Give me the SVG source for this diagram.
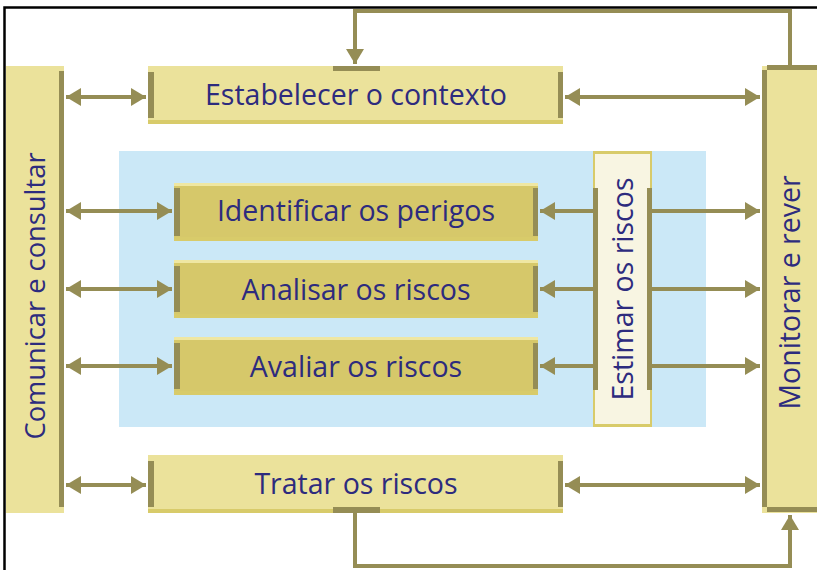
<svg xmlns="http://www.w3.org/2000/svg" width="817" height="570" viewBox="0 0 817 570">
<defs>
<style>
.lt{fill:#ebe29b}
.md{fill:#d6c86a}
.edge{fill:#d8cb6a}
.dk{fill:#958d55}
.ln{stroke:#958d55;stroke-width:4;fill:none}
.tx{font-family:"Open Sans","Noto Sans",sans-serif;font-size:28.5px;fill:#2d2b7e;text-anchor:middle}
</style>
<marker id="ah" viewBox="0 0 10 12" refX="10" refY="6" markerWidth="3.75" markerHeight="4.5" orient="auto-start-reverse" markerUnits="strokeWidth">
<path d="M0,0 L10,6 L0,12 Z" fill="#958d55"/>
</marker>
</defs>
<rect width="817" height="570" fill="#fff"/>
<path d="M4.5,572 V7.5 H820" fill="none" stroke="#000" stroke-width="2.5"/>
<rect x="119" y="151" width="587" height="276" fill="#cbe8f7"/>

<g id="comunicar">
<rect class="lt" x="6" y="66" width="58" height="447"/>
<rect class="dk" x="59" y="71" width="5" height="436"/>
<text class="tx" style="font-size:27.3px" transform="translate(45,296) rotate(-90)">Comunicar e consultar</text>
</g>

<g id="monitorar">
<rect class="lt" x="762" y="66" width="60" height="447"/>
<rect class="dk" x="767" y="65" width="55" height="5"/>
<rect class="dk" x="762" y="70" width="5" height="437"/>
<rect class="dk" x="767" y="507" width="55" height="5"/>
<text class="tx" transform="translate(800,292.5) rotate(-90)">Monitorar e rever</text>
</g>

<g id="estabelecer">
<rect class="lt" x="148" y="66" width="415" height="58"/>
<rect class="edge" x="148" y="120" width="415" height="4"/>
<rect class="dk" x="148" y="72" width="6" height="46"/>
<rect class="dk" x="558" y="72" width="5" height="46"/>
<rect class="dk" x="333" y="66" width="47" height="5"/>
<text class="tx" x="356" y="105">Estabelecer o contexto</text>
</g>

<g id="identificar">
<rect class="md" x="174" y="183" width="364" height="58"/>
<rect fill="#efe7a3" x="174" y="183" width="364" height="3"/>
<rect class="edge" x="174" y="237" width="364" height="4"/>
<rect class="dk" x="174" y="188" width="6" height="48"/>
<rect class="dk" x="533" y="188" width="5" height="48"/>
<text class="tx" x="356" y="221">Identificar os perigos</text>
</g>

<g id="analisar">
<rect class="md" x="174" y="260" width="364" height="58"/>
<rect fill="#efe7a3" x="174" y="260" width="364" height="3"/>
<rect class="edge" x="174" y="314" width="364" height="4"/>
<rect class="dk" x="174" y="266" width="6" height="46"/>
<rect class="dk" x="533" y="266" width="5" height="46"/>
<text class="tx" x="356" y="300">Analisar os riscos</text>
</g>

<g id="avaliar">
<rect class="md" x="174" y="337" width="364" height="58"/>
<rect fill="#efe7a3" x="174" y="337" width="364" height="3"/>
<rect class="edge" x="174" y="391" width="364" height="4"/>
<rect class="dk" x="174" y="343" width="6" height="46"/>
<rect class="dk" x="533" y="343" width="5" height="46"/>
<text class="tx" x="356" y="377">Avaliar os riscos</text>
</g>

<g id="estimar">
<rect fill="#f8f5e2" stroke="#d8cb6a" stroke-width="2" x="594" y="152" width="57" height="274"/>
<rect class="edge" x="593" y="151" width="59" height="3"/>
<rect class="edge" x="593" y="424" width="59" height="3"/>
<rect class="dk" x="593" y="188" width="5" height="202"/>
<rect class="dk" x="647" y="188" width="5" height="202"/>
<text class="tx" transform="translate(633,289) rotate(-90)">Estimar os riscos</text>
</g>

<g id="tratar">
<rect class="lt" x="148" y="455" width="415" height="58"/>
<rect class="edge" x="148" y="509" width="415" height="4"/>
<rect class="dk" x="148" y="461" width="6" height="46"/>
<rect class="dk" x="558" y="461" width="5" height="46"/>
<rect class="dk" x="333" y="507" width="47" height="6"/>
<text class="tx" x="356" y="494">Tratar os riscos</text>
</g>

<g id="connectors">
<line class="ln" x1="66" y1="97" x2="146" y2="97" marker-start="url(#ah)" marker-end="url(#ah)"/>
<line class="ln" x1="66" y1="211" x2="172" y2="211" marker-start="url(#ah)" marker-end="url(#ah)"/>
<line class="ln" x1="66" y1="289" x2="172" y2="289" marker-start="url(#ah)" marker-end="url(#ah)"/>
<line class="ln" x1="66" y1="366" x2="172" y2="366" marker-start="url(#ah)" marker-end="url(#ah)"/>
<line class="ln" x1="66" y1="485" x2="146" y2="485" marker-start="url(#ah)" marker-end="url(#ah)"/>
<line class="ln" x1="565" y1="97" x2="760" y2="97" marker-start="url(#ah)" marker-end="url(#ah)"/>
<line class="ln" x1="565" y1="485" x2="760" y2="485" marker-start="url(#ah)" marker-end="url(#ah)"/>
<line class="ln" x1="593" y1="211" x2="540" y2="211" marker-end="url(#ah)"/>
<line class="ln" x1="593" y1="289" x2="540" y2="289" marker-end="url(#ah)"/>
<line class="ln" x1="593" y1="366" x2="540" y2="366" marker-end="url(#ah)"/>
<line class="ln" x1="652" y1="211" x2="760" y2="211" marker-end="url(#ah)"/>
<line class="ln" x1="652" y1="289" x2="760" y2="289" marker-end="url(#ah)"/>
<line class="ln" x1="652" y1="366" x2="760" y2="366" marker-end="url(#ah)"/>
<path class="ln" d="M790,65 V11 H355 V64" marker-end="url(#ah)"/>
<path class="ln" d="M355,513 V566 H790 V515" marker-end="url(#ah)"/>
</g>
</svg>
